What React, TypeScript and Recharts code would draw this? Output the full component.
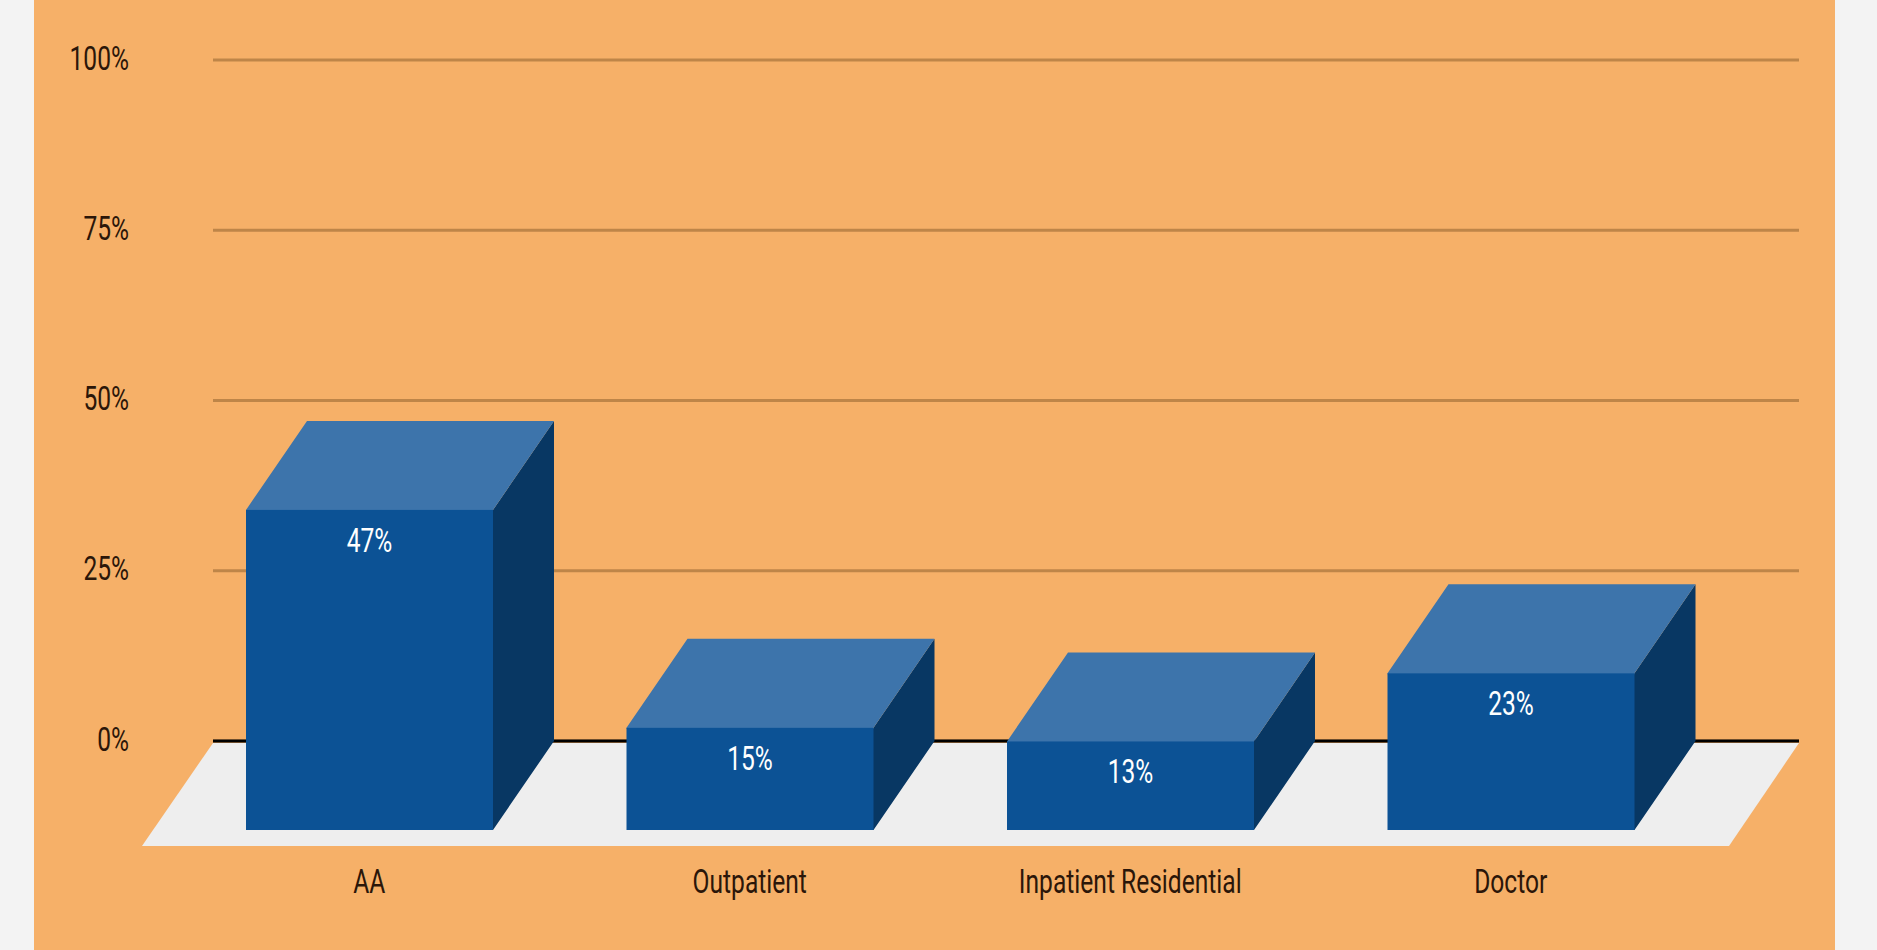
import React from "react";
import {
  BarChart,
  Bar,
  XAxis,
  YAxis,
  CartesianGrid,
  LabelList,
  usePlotArea,
} from "recharts";

const categories = ["AA", "Outpatient", "Inpatient Residential", "Doctor"];
const shares = [47, 15, 13, 23];
const percentTicks = [0, 25, 50, 75, 100];

const rows = categories.map((name, i) => ({ name, share: shares[i] }));

const PAGE_BG = "#f3f3f3";
const PANEL_BG = "#f6b068";
const GRID_COLOR = "#be8548";
const FLOOR_COLOR = "#eeeeee";
const FRONT_COLOR = "#0c5295";
const TOP_COLOR = "#3d74ab";
const SIDE_COLOR = "#083763";
const AXIS_TEXT = "#2b1609";

// Offset of the near face from the far face of each box.
const DEPTH_X = -61;
const DEPTH_Y = 89;

const FONT = "Roboto, sans-serif";
const FONT_SIZE = 33;
const SQUEEZE = 0.745;

function pts(list: number[][]) {
  return list.map((p) => p.join(",")).join(" ");
}

// Narrow text, drawn at a larger size and compressed horizontally.
function NarrowText({ x, y, anchor, fill, children }: any) {
  return (
    <text
      transform={`translate(${x},${y}) scale(${SQUEEZE},1)`}
      textAnchor={anchor}
      fontFamily={FONT}
      fontSize={FONT_SIZE}
      fill={fill}
    >
      {children}
    </text>
  );
}

function PercentTick({ x, y, payload }: any) {
  return (
    <NarrowText x={x} y={y + 9.5} anchor="end" fill={AXIS_TEXT}>
      {payload.value}%
    </NarrowText>
  );
}

function CategoryTick({ x, y, payload }: any) {
  return (
    <NarrowText x={x + DEPTH_X} y={y + 12} anchor="middle" fill={AXIS_TEXT}>
      {payload.value}
    </NarrowText>
  );
}

// The far face comes from the value scale; the near face is shifted down and left.
// The top and side run one pixel under the near face so no seam shows between them.
function Box({ x, y, width, height }: any) {
  const fl = x + DEPTH_X;
  const fr = fl + width;
  const ft = y + DEPTH_Y;
  const fb = ft + height;
  return (
    <g>
      <polygon points={pts([[fr - 1, ft], [fr - 1, fb], [fr, fb], [x + width, y + height], [x + width, y], [fr, ft]])} fill={SIDE_COLOR} />
      <polygon points={pts([[fl, ft + 1], [fl, ft], [x, y], [x + width, y], [fr, ft], [fr, ft + 1]])} fill={TOP_COLOR} />
      <rect x={fl} y={ft} width={width} height={height} fill={FRONT_COLOR} />
    </g>
  );
}

function ValueLabel({ x, y, width, value }: any) {
  return (
    <NarrowText x={x + DEPTH_X + width / 2} y={y + DEPTH_Y + 42} anchor="middle" fill="#ffffff">
      {value}%
    </NarrowText>
  );
}

// Ground plane running from the baseline towards the viewer, plus the baseline itself,
// both kept beneath the boxes.
function Floor() {
  const area = usePlotArea();
  if (!area) return null;
  const { x, y, width, height } = area;
  const zero = y + height;
  const base = zero + 2;
  const near = base + 103;
  return (
    <g>
      <polygon
        points={pts([
          [x, base],
          [x + width, base],
          [x + width - 70, near],
          [x - 71, near],
        ])}
        fill={FLOOR_COLOR}
      />
      <line x1={x} x2={x + width} y1={zero} y2={zero} stroke="#000000" strokeWidth={3} />
    </g>
  );
}

export default function App() {
  return (
    <div style={{ position: "absolute", left: 0, top: 0, width: 1877, height: 950, background: PAGE_BG, overflow: "hidden" }}>
      <div style={{ position: "absolute", left: 34, top: 0, width: 1801, height: 950, background: PANEL_BG }} />
      <div style={{ position: "absolute", left: 0, top: 0 }}>
        <BarChart
          width={1877}
          height={950}
          data={rows}
          margin={{ top: 60, right: 78, bottom: 0, left: 0 }}
          barSize={247}
        >
          <CartesianGrid vertical={false} stroke={GRID_COLOR} strokeWidth={3} />
          <XAxis
            dataKey="name"
            height={209}
            interval={0}
            padding={{ left: 27, right: 37 }}
            axisLine={false}
            tickLine={false}
            tickSize={0}
            tickMargin={140}
            tick={<CategoryTick />}
          />
          <YAxis
            width={213}
            domain={[0, 100]}
            ticks={percentTicks}
            axisLine={false}
            tickLine={false}
            tickSize={0}
            tickMargin={84}
            tick={<PercentTick />}
          />
          <Floor />
          <Bar dataKey="share" isAnimationActive={false} shape={<Box />}>
            <LabelList dataKey="share" content={<ValueLabel />} />
          </Bar>
        </BarChart>
      </div>
    </div>
  );
}
